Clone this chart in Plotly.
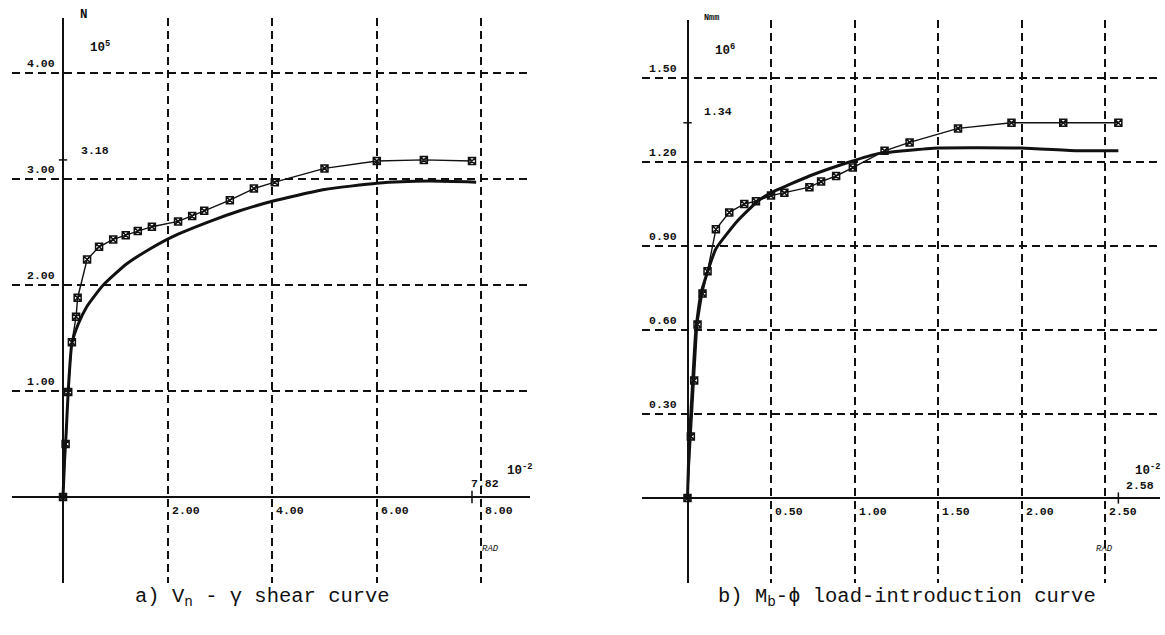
import plotly.graph_objects as go

# ---------------- panel a: shear force V_n (1e5 N) vs shear angle (1e-2 rad)
shear_gamma_fit = [0, 0.03, 0.06, 0.10, 0.17, 0.29, 0.46, 0.77, 1.22, 1.66, 2.07,
                   2.81, 3.38, 4.00, 5.00, 6.00, 7.00, 7.90]
shear_force_fit = [0, 0.35, 0.60, 1.00, 1.45, 1.63, 1.80, 2.00, 2.20, 2.34, 2.45,
                   2.60, 2.70, 2.79, 2.90, 2.96, 2.98, 2.97]
shear_gamma_test = [0, 0.05, 0.10, 0.17, 0.25, 0.28, 0.46, 0.69, 0.96, 1.20, 1.43,
                    1.70, 2.20, 2.47, 2.70, 3.19, 3.65, 4.05, 5.00, 6.00, 6.90, 7.82]
shear_force_test = [0, 0.50, 0.99, 1.46, 1.70, 1.88, 2.24, 2.36, 2.43, 2.47, 2.51,
                    2.55, 2.60, 2.65, 2.70, 2.80, 2.91, 2.97, 3.10, 3.17, 3.18, 3.17]
shear_x_ticks = [2.0, 4.0, 6.0, 8.0]
shear_y_ticks = [1.0, 2.0, 3.0, 4.0]
shear_x_max = 7.82
shear_y_max = 3.18

# ---------------- panel b: bending moment M_b (1e6 Nmm) vs rotation (1e-2 rad)
moment_phi_fit = [0, 0.01, 0.02, 0.05, 0.08, 0.17, 0.30, 0.42, 0.50, 0.73, 0.97,
                  1.14, 1.50, 2.00, 2.34, 2.58]
moment_fit = [0, 0.21, 0.30, 0.60, 0.73, 0.89, 0.99, 1.06, 1.09, 1.15, 1.20,
              1.23, 1.25, 1.25, 1.24, 1.24]
moment_phi_test = [0, 0.02, 0.04, 0.06, 0.09, 0.12, 0.17, 0.25, 0.34, 0.41, 0.50,
                   0.58, 0.73, 0.80, 0.89, 0.99, 1.18, 1.33, 1.62, 1.94, 2.25, 2.58]
moment_test = [0, 0.22, 0.42, 0.62, 0.73, 0.81, 0.96, 1.02, 1.05, 1.06, 1.08,
               1.09, 1.11, 1.13, 1.15, 1.18, 1.24, 1.27, 1.32, 1.34, 1.34, 1.34]
moment_x_ticks = [0.5, 1.0, 1.5, 2.0, 2.5]
moment_y_ticks = [0.3, 0.6, 0.9, 1.2, 1.5]
moment_x_max = 2.58
moment_y_max = 1.34

W, H = 1165, 635
INK = "#111111"
MONO = "Liberation Mono, DejaVu Sans Mono, monospace"


def px(x):
    return x / W


def py(y):
    return 1 - y / H


fig = go.Figure()

# smooth (thick) curves and measured curves with boxed markers
fig.add_trace(go.Scatter(x=shear_gamma_fit, y=shear_force_fit, mode="lines",
                         line=dict(color=INK, width=3, shape="spline", smoothing=0.5),
                         xaxis="x", yaxis="y", hoverinfo="skip"))
fig.add_trace(go.Scatter(x=shear_gamma_test, y=shear_force_test, mode="lines+markers",
                         line=dict(color=INK, width=1.4),
                         marker=dict(symbol="square-x-open", size=7, color=INK,
                                     line=dict(width=1.5, color=INK)),
                         xaxis="x", yaxis="y", hoverinfo="skip"))
fig.add_trace(go.Scatter(x=moment_phi_fit, y=moment_fit, mode="lines",
                         line=dict(color=INK, width=3, shape="spline", smoothing=0.4),
                         xaxis="x2", yaxis="y2", hoverinfo="skip"))
fig.add_trace(go.Scatter(x=moment_phi_test, y=moment_test, mode="lines+markers",
                         line=dict(color=INK, width=1.4),
                         marker=dict(symbol="square-x-open", size=7, color=INK,
                                     line=dict(width=1.5, color=INK)),
                         xaxis="x2", yaxis="y2", hoverinfo="skip"))


def axis(domain, rng, ticks, anchor):
    return dict(domain=domain, range=rng, anchor=anchor, tickmode="array",
                tickvals=ticks, showticklabels=False, ticks="",
                showgrid=True, gridcolor=INK, gridwidth=1.5, griddash="8px,5px",
                zeroline=True, zerolinecolor=INK, zerolinewidth=2.2,
                showline=False, fixedrange=True)


# left panel: x=0 at 63 px, 52.3 px per unit; y=0 at 497 px, 106 px per unit
lx0, lxs, ly0, lys = 63, 52.3, 497, 106
lxd = (12, 530)
lyd = (18, 583)
# right panel: x=0 at 687.5 px, 167 px per unit; y=0 at 498 px, 280 px per unit
rx0, rxs, ry0, rys = 687.5, 167, 498, 280
rxd = (642, 1160)
ryd = (20, 583)

fig.update_layout(
    width=W, height=H, margin=dict(l=0, r=0, t=0, b=0),
    paper_bgcolor="white", plot_bgcolor="white", showlegend=False,
    xaxis=axis([px(lxd[0]), px(lxd[1])],
               [(lxd[0] - lx0) / lxs, (lxd[1] - lx0) / lxs], shear_x_ticks, "y"),
    yaxis=axis([py(lyd[1]), py(lyd[0])],
               [(ly0 - lyd[1]) / lys, (ly0 - lyd[0]) / lys], shear_y_ticks, "x"),
    xaxis2=axis([px(rxd[0]), px(rxd[1])],
                [(rxd[0] - rx0) / rxs, (rxd[1] - rx0) / rxs], moment_x_ticks, "y2"),
    yaxis2=axis([py(ryd[1]), py(ryd[0])],
                [(ry0 - ryd[1]) / rys, (ry0 - ryd[0]) / rys], moment_y_ticks, "x2"),
)

ann = []
small = dict(family=MONO, size=11.5, color=INK)


def label(text, x, y, xref, yref, xanchor, yanchor, xshift=0, yshift=0, font=small):
    ann.append(dict(text=text, x=x, y=y, xref=xref, yref=yref, xanchor=xanchor,
                    yanchor=yanchor, xshift=xshift, yshift=yshift, showarrow=False,
                    font=font))


# tick labels sit above / right of the dashed grid lines
for v in shear_y_ticks:
    label(f"<b>{v:.2f}</b>", 0, v, "x", "y", "right", "bottom", xshift=-6, yshift=1)
for v in shear_x_ticks:
    label(f"<b>{v:.2f}</b>", v, 0, "x", "y", "left", "top", xshift=2, yshift=-5)
for v in moment_y_ticks:
    label(f"<b>{v:.2f}</b>", 0, v, "x2", "y2", "right", "bottom", xshift=-9, yshift=1)
for v in moment_x_ticks:
    label(f"<b>{v:.2f}</b>", v, 0, "x2", "y2", "left", "top", xshift=2, yshift=-5)

# end-point values marked on the axes
label(f"<b>{shear_y_max:.2f}</b>", 0, shear_y_max, "x", "y", "left", "bottom", xshift=16, yshift=1)
label(f"<b>{shear_x_max:.2f}</b>", shear_x_max, 0, "x", "y", "left", "bottom", xshift=-3, yshift=5)
label(f"<b>{moment_y_max:.2f}</b>", 0, moment_y_max, "x2", "y2", "left", "bottom", xshift=14, yshift=3)
label(f"<b>{moment_x_max:.2f}</b>", moment_x_max, 0, "x2", "y2", "left", "bottom", xshift=6, yshift=4)

# units and scale factors
big = dict(family=MONO, size=12.5, color=INK)
label("<b>N</b>", px(78), py(15), "paper", "paper", "left", "middle", font=big)
label("<b>10<sup>5</sup></b>", px(88), py(47), "paper", "paper", "left", "middle", font=big)
label("<b>10<sup>-2</sup></b>", px(505), py(470), "paper", "paper", "left", "middle", font=big)
label("<i>RAD</i>", px(480), py(549), "paper", "paper", "left", "middle",
      font=dict(family=MONO, size=9, color=INK))
label("<b>Nmm</b>", px(702), py(18), "paper", "paper", "left", "middle",
      font=dict(family=MONO, size=8.5, color=INK))
label("<b>10<sup>6</sup></b>", px(713), py(50), "paper", "paper", "left", "middle", font=big)
label("<b>10<sup>-2</sup></b>", px(1133), py(470), "paper", "paper", "left", "middle", font=big)
label("<i>RAD</i>", px(1094), py(549), "paper", "paper", "left", "middle",
      font=dict(family=MONO, size=9, color=INK))

# captions
cap = dict(family=MONO, size=20.5, color=INK)
label("a) V<sub>n</sub> - γ shear curve", px(262), py(597), "paper", "paper",
      "center", "middle", font=cap)
label("b) M<sub>b</sub>-ϕ load-introduction curve", px(907), py(597), "paper", "paper",
      "center", "middle", font=cap)

fig.update_layout(annotations=ann)

# short tick marks at the end-point values
shapes = [
    dict(type="line", xref="x", yref="y", x0=shear_x_max, x1=shear_x_max,
         y0=-0.06, y1=0.06, line=dict(color=INK, width=1.5)),
    dict(type="line", xref="x", yref="y", x0=-0.08, x1=0.08,
         y0=shear_y_max, y1=shear_y_max, line=dict(color=INK, width=1.5)),
    dict(type="line", xref="x2", yref="y2", x0=moment_x_max, x1=moment_x_max,
         y0=-0.02, y1=0.02, line=dict(color=INK, width=1.5)),
    dict(type="line", xref="x2", yref="y2", x0=-0.025, x1=0.025,
         y0=moment_y_max, y1=moment_y_max, line=dict(color=INK, width=1.5)),
]
fig.update_layout(shapes=shapes)

fig.write_html("out.html")
